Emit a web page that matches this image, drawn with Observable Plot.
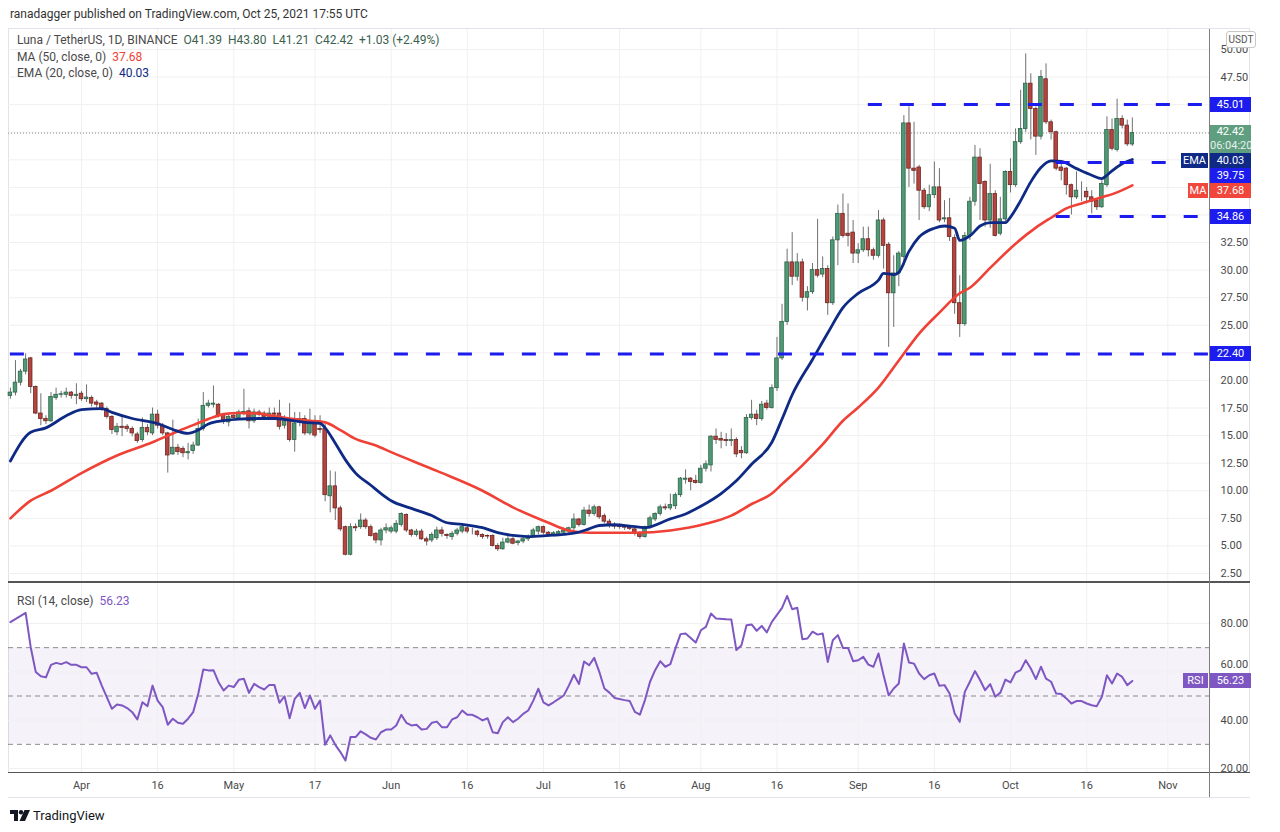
<!DOCTYPE html>
<html>
<head>
<meta charset="utf-8">
<script src="https://cdn.jsdelivr.net/npm/d3@7"></script>
<script src="https://cdn.jsdelivr.net/npm/@observablehq/plot@0.6"></script>
<style>
html,body{margin:0;padding:0;background:#fff;}
body{width:1280px;height:832px;position:relative;overflow:hidden;font-family:Roboto,"Noto Sans",sans-serif;color:#333;}
.abs{position:absolute;}
#pub{left:10px;top:6px;font-size:12px;line-height:16px;color:#333;}
#frame{left:8px;top:28px;width:1242px;height:770px;border:1px solid #e0e3eb;box-sizing:border-box;}
#timeAxis{left:0;top:773px;height:24px;width:1280px;background:#fff;}
</style>
</head>
<body>
<div id="pub" class="abs">ranadagger published on TradingView.com, Oct 25, 2021 17:55 UTC</div>
<div id="frame" class="abs"></div>
<div id="pricePane" class="abs" style="left:0;top:29px;"></div>
<div id="rsiPane" class="abs" style="left:0;top:583px;"></div>
<div id="timeAxis" class="abs"></div>
<div id="overlay"></div>
<script>
// ---------- data ----------
const startDay = "2021-03-18";
const open = [
18.6,18.9,19.8,20.8,22.0,19.4,17.0,16.5,16.3,18.4,
18.7,18.7,18.9,18.6,18.8,18.3,18.4,18.0,17.9,17.4,
16.7,15.3,15.8,15.8,15.6,15.1,14.6,15.7,15.2,16.9,
15.9,15.2,13.3,13.9,13.8,13.4,13.6,14.1,15.6,17.7,
17.8,17.8,16.9,16.2,16.8,16.6,17.1,17.2,16.3,17.1,
17.0,16.7,17.0,17.0,15.9,16.5,14.6,16.2,16.5,15.2,
16.3,15.6,15.6,9.5,10.4,8.4,6.7,4.2,6.7,6.7,
7.3,6.7,6.1,5.5,6.4,6.3,6.3,6.9,7.8,6.4,
6.0,6.3,5.6,5.5,5.7,6.4,6.0,5.8,6.1,6.3,
6.6,6.3,6.3,6.0,5.9,5.9,5.0,4.7,5.3,5.6,
5.25,5.4,5.6,5.9,6.3,6.7,6.2,6.0,6.1,6.2,
6.3,6.6,7.4,6.9,8.2,7.9,8.5,7.7,7.2,6.9,
6.8,6.7,6.65,6.5,6.1,5.8,6.7,7.4,7.9,8.5,
8.4,8.6,9.6,11.0,11.1,10.9,10.7,12.0,12.3,14.9,
14.7,14.6,14.5,14.6,13.6,13.4,16.6,16.9,16.5,17.9,
17.5,19.3,22.0,25.3,30.7,29.4,30.7,27.5,28.0,30.0,
29.6,30.1,27.0,32.7,35.1,33.3,33.4,31.5,31.8,32.8,
31.8,31.3,34.5,32.3,27.9,29.7,31.2,43.3,39.2,39.3,
37.2,35.7,36.8,37.5,34.6,34.7,32.9,27.0,25.1,33.1,
36.2,40.2,38.0,34.5,36.9,33.3,34.6,38.9,37.7,41.6,
42.8,46.9,44.6,42.1,47.3,43.4,42.5,39.3,39.2,37.7,
36.6,37.1,37.1,36.6,36.3,35.7,37.7,42.7,40.9,43.7,
43.1,41.39];
const high = [
19.3,21.8,21.0,22.4,22.1,19.5,18.8,16.8,18.9,19.3,
19.0,19.3,19.0,19.7,19.0,19.6,18.6,18.2,18.0,17.6,
16.8,16.1,16.8,16.0,15.8,15.3,16.6,16.0,17.5,17.3,
16.1,15.3,16.4,14.2,14.0,14.3,14.4,16.5,18.9,18.2,
19.5,17.9,17.0,17.0,17.0,17.3,19.2,17.5,17.4,17.3,
17.2,17.5,17.5,18.2,16.8,17.9,17.1,17.1,16.8,17.4,
16.8,16.8,16.0,11.8,11.7,8.6,6.8,7.0,7.0,7.9,
7.5,6.9,6.2,6.6,7.0,6.8,7.3,8.0,7.9,6.5,
6.5,6.5,5.8,6.2,6.7,6.7,6.1,6.3,6.6,6.9,
6.8,6.6,6.4,6.1,6.0,6.0,5.2,5.7,5.9,5.8,
5.5,5.8,6.0,6.6,6.8,6.8,6.3,6.3,6.4,6.5,
6.7,7.9,7.5,8.5,8.7,8.7,8.6,7.9,7.4,7.1,
7.0,6.9,6.8,6.6,6.3,6.8,7.7,8.0,8.7,8.8,
9.7,9.8,11.2,11.9,11.2,11.4,12.3,12.7,15.0,15.6,
15.3,15.2,15.6,14.8,14.0,16.9,18.2,17.3,18.1,18.2,
19.6,23.9,26.9,31.9,33.4,31.5,31.0,28.5,30.6,34.6,
31.2,30.4,33.0,35.9,36.9,36.0,34.5,32.4,33.9,33.9,
32.0,35.4,34.7,32.5,31.3,31.7,44.0,44.8,43.4,39.5,
37.4,37.7,39.8,39.2,36.3,36.5,33.2,29.5,33.4,36.6,
41.3,41.0,38.1,39.6,37.2,36.6,39.0,40.1,42.8,46.3,
49.6,47.8,44.8,48.1,48.7,43.6,42.6,39.8,39.3,37.8,
38.9,38.0,37.5,37.2,36.4,38.1,43.9,43.7,45.5,44.0,
43.6,43.80];
const low = [
18.3,18.6,19.5,20.5,18.8,16.9,15.9,16.0,16.2,18.2,
18.4,18.4,18.3,17.8,18.1,18.0,17.6,17.5,17.2,16.5,
15.1,15.0,14.9,15.3,14.9,14.3,14.4,15.0,15.0,15.6,
15.0,11.6,13.2,13.2,13.0,12.8,13.3,14.0,15.4,17.5,
17.5,16.6,16.0,15.8,16.4,16.4,16.8,15.6,16.1,16.7,
16.5,16.5,16.6,15.5,15.6,14.4,13.5,15.8,15.0,15.0,
14.8,15.2,9.0,8.0,7.3,6.3,4.1,4.1,6.3,6.5,
6.5,5.8,5.2,5.0,6.1,6.1,6.1,6.7,6.2,5.8,
5.8,5.5,5.0,5.3,5.5,5.8,5.6,5.5,5.9,6.1,
6.1,6.0,5.8,5.6,5.6,4.9,4.5,4.6,5.2,5.1,
5.0,5.2,5.4,5.8,6.0,6.0,5.8,5.8,5.9,6.0,
6.1,6.4,6.7,6.8,7.6,7.7,7.4,7.0,6.6,6.5,
6.5,6.4,6.4,5.9,5.6,5.7,6.5,7.2,7.7,8.2,
8.2,8.3,9.4,10.6,10.0,10.6,10.6,11.7,11.7,14.2,
13.8,14.0,14.0,13.0,12.9,13.3,16.4,15.9,16.3,17.3,
17.4,19.0,21.8,25.0,28.6,29.0,27.1,26.3,27.8,29.3,
29.3,25.9,26.8,30.4,32.9,32.1,30.6,30.6,31.6,31.2,
30.9,31.1,30.1,23.0,24.8,28.5,30.4,37.5,37.8,34.5,
35.5,35.3,36.5,34.3,34.3,32.6,26.0,23.9,24.9,32.7,
35.8,34.5,33.9,33.8,33.0,33.1,34.4,37.0,37.5,41.4,
42.5,41.8,40.4,41.8,43.2,41.8,39.0,38.1,36.8,35.0,
36.4,36.2,36.0,35.1,35.4,35.6,37.5,40.8,40.7,42.8,
41.2,41.21];
const close = [
18.9,19.8,20.8,21.9,19.4,17.0,16.5,16.3,18.5,18.7,
18.75,18.9,18.6,18.7,18.3,18.45,17.9,17.8,17.4,16.7,
15.5,15.8,15.7,15.6,15.2,14.5,15.7,15.3,16.9,15.9,
15.2,13.2,13.9,13.5,13.4,13.5,14.1,15.6,17.7,17.9,
17.9,16.8,16.3,16.7,16.6,17.1,17.15,16.3,17.1,16.9,
16.7,17.0,16.9,15.8,16.3,14.6,16.1,16.5,15.2,16.2,
15.0,15.5,9.6,10.4,8.4,6.5,4.2,6.7,6.6,7.3,
6.7,5.9,5.5,6.4,6.6,6.6,7.0,7.9,6.4,6.0,
6.3,5.6,5.4,6.0,6.4,6.1,5.9,6.1,6.4,6.7,
6.3,6.3,6.0,5.8,5.85,5.0,4.7,5.3,5.6,5.2,
5.4,5.6,5.8,6.4,6.7,6.2,6.0,6.15,6.25,6.35,
6.6,7.4,6.9,8.2,7.9,8.5,7.6,7.2,6.9,6.75,
6.7,6.65,6.55,6.1,5.8,6.7,7.5,7.9,8.5,8.4,
8.7,9.6,11.1,11.1,10.8,10.7,12.0,12.4,14.9,14.6,
14.55,14.5,14.6,13.3,13.4,16.6,16.9,16.5,17.8,17.5,
19.3,22.0,25.3,30.7,29.4,30.7,27.5,28.0,30.0,29.5,
30.1,27.0,32.7,35.1,33.1,33.1,31.5,31.8,32.8,31.8,
31.3,34.5,32.2,27.9,29.7,31.5,43.3,39.2,39.0,37.2,
35.7,36.8,37.5,34.5,34.7,33.0,27.0,25.1,33.1,36.2,
40.2,37.8,34.5,36.9,33.1,34.6,38.9,37.7,41.6,42.8,
46.9,44.6,42.1,47.5,43.4,42.5,39.2,39.0,37.7,36.6,
37.2,37.1,36.6,36.2,35.7,37.8,42.7,41.0,43.7,43.1,
41.4,42.42];

const emaDay = [0,4,7,11,14,18,20,24,29,32,35,37,39,42,45,49,52,55,58,61,62,64,66,68,71,73,75,79,83,86,89,93,96,99,102,106,109,112,114,116,119,122,125,130,133,136,140,143,146,150,152,154,158,161,164,167,171,172,174,175,177,179,182,184,186,187,189,191,193,196,197,199,201,203,205,207,210,213,215,216,217,219,221];
const emaValue = [12.7,15.3,15.7,16.8,17.35,17.45,17.1,16.55,16.1,15.55,15.2,15.5,16.05,16.35,16.5,16.55,16.55,16.4,16.2,16.1,15.7,14.3,12.8,11.6,10.5,9.75,9.1,8.4,7.75,7.1,6.95,6.65,6.2,5.95,5.85,5.95,6.05,6.25,6.55,6.85,6.92,6.8,6.66,7.45,7.9,8.6,9.75,10.9,12.4,14.4,16.5,18.7,21.9,24.3,26.6,27.9,29.1,29.7,29.6,29.8,31.7,33.0,33.8,34.0,33.8,32.7,33.1,34.0,34.3,34.3,34.8,36.3,38.0,39.3,39.9,39.85,39.2,38.6,38.3,38.6,39.0,39.65,40.03];
const maDay = [0,4,8,14,21,28,33,36,39,42,45,49,52,55,59,62,65,68,72,75,84,93,99,106,110,114,123,130,137,142,146,150,152,156,160,164,167,171,175,179,183,187,189,193,198,202,205,208,211,215,218,221];
const maValue = [7.5,9.1,10.0,11.6,13.2,14.4,15.4,15.95,16.5,16.95,17.05,17.0,16.75,16.55,16.35,16.2,15.5,14.7,14.1,13.5,11.8,10.0,8.5,7.1,6.4,6.2,6.2,6.4,7.0,7.75,8.8,9.75,10.6,12.3,14.2,16.35,17.55,19.35,21.8,24.25,26.15,27.9,28.4,30.2,32.4,33.85,34.75,35.6,36.05,36.6,37.05,37.68];
const rsiValue = [
80.6,null,null,84.4,70.2,59.9,58.2,57.7,62.9,63.7,
63.2,64.0,62.9,62.9,61.9,61.9,59.2,59.6,54.3,null,
44.7,46.5,46.1,45.0,43.3,40.3,47.4,45.8,54.3,48.1,
45.4,38.1,40.6,38.9,38.5,40.6,43.3,50.9,61.0,60.6,
60.7,55.7,52.3,54.3,53.7,56.7,57.1,51.3,55.0,53.7,
52.7,54.6,54.6,47.2,49.9,40.8,48.8,51.3,45.0,50.2,
44.7,48.1,29.8,33.7,29.8,26.8,23.3,33.0,33.0,35.4,
34.1,32.7,32.0,35.0,36.1,36.1,37.8,42.2,38.9,37.8,
38.1,36.1,36.4,38.9,39.4,37.1,37.1,40.3,41.2,44.0,
42.2,42.2,41.2,39.9,40.8,35.0,34.6,39.2,41.2,39.2,
40.6,42.6,44.0,48.1,53.0,47.4,46.1,47.4,48.8,50.2,
54.3,58.8,55.0,64.3,62.7,65.8,60.0,53.1,51.4,49.2,
null,48.3,47.9,43.4,42.3,48.3,55.9,60.7,64.4,62.1,
63.2,69.7,75.6,75.9,null,72.1,77.2,78.6,84.1,82.1,
null,81.8,81.7,69.0,71.0,79.3,79.6,77.0,79.0,76.3,
80.7,null,86.5,91.4,85.9,86.5,73.5,73.8,76.6,75.4,
75.9,64.1,73.1,75.2,69.9,69.9,64.4,64.8,66.2,63.0,
62.1,67.6,58.6,50.3,53.1,55.2,71.7,63.9,63.4,59.3,
57.0,58.6,59.3,54.2,54.5,51.0,42.8,39.3,51.7,55.9,
60.3,56.6,52.4,54.9,49.7,51.4,56.8,55.6,59.7,60.7,
64.8,61.4,57.0,62.1,57.2,55.9,51.0,50.8,49.0,46.9,
47.9,47.9,46.9,46.2,45.8,49.7,58.6,55.2,59.3,57.9,
54.5,56.23];

const levelValue = [45.01, 39.75, 34.86, 22.40];
const levelFromDay = [169, 206, 206, 0];
const priceGrid = [2.5,5,7.5,10,12.5,15,17.5,20,22.5,25,27.5,30,32.5,35,37.5,40,42.5,45,47.5,50];
const priceTickLabel = [2.5,5,7.5,10,12.5,15,17.5,20,25,27.5,30,32.5,47.5,50];
const rsiGrid = [20,40,60,80];
const rsiTickLabel = [20,40,80];
const rsiRaisedLabel = [60];
const rsiDashed = [30,50,70];
const rsiBand = [30,70];
const timeTickDate = ["2021-04-01","2021-04-16","2021-05-01","2021-05-17","2021-06-01","2021-06-16","2021-07-01","2021-07-16","2021-08-01","2021-08-16","2021-09-01","2021-09-16","2021-10-01","2021-10-16","2021-11-01"];
const timeTickLabel = ["Apr","16","May","17","Jun","16","Jul","16","Aug","16","Sep","16","Oct","16","Nov"];
const lastBar = {o: 41.39, h: 43.80, l: 41.21, c: 42.42, chg: 1.03, pct: 2.49};
const maLast = 37.68, emaLast = 40.03, rsiLast = 56.23;
const countdown = "06:04:20";
const badgeValue = [45.01, 42.42, 40.03, 39.75, 37.68, 34.86, 22.40];
const badgeColor = ["#1c1cee", "#5f9f80", "#0e2a84", "#1c1cee", "#f0463c", "#1c1cee", "#1c1cee"];
const badgeTag = ["", "", "EMA", "", "MA", "", ""];

// ---------- colours ----------
const C = {
  up: "#4f9a75", upLine: "#2c6349", down: "#b5443e", downLine: "#6e2622", wick: "#707070",
  ma: "#ef4136", ema: "#0e2a84", level: "#1c1cee", rsi: "#7e57c2", grid: "#f0f0f0", text: "#4a4a4a"
};
const fontFamily = "Roboto, 'Noto Sans', sans-serif";
const baseStyle = {fontFamily, fontSize: "11px", color: C.text, background: "transparent", overflow: "visible"};

// ---------- derived tables ----------
const t0 = new Date(startDay + "T00:00:00Z").getTime();
const day = i => new Date(t0 + i * 864e5);
const xDomain = [day(-0.374), day(236.2)];
const half = 0.35 * 864e5;
const candles = open.map((o, i) => ({date: day(i), o, h: high[i], l: low[i], c: close[i], up: close[i] >= o}));
const ema = emaDay.map((d, k) => ({date: day(d), v: emaValue[k]}));
const ma = maDay.map((d, k) => ({date: day(d), v: maValue[k]}));
const rsiData = rsiValue.map((v, i) => ({date: day(i), v})).filter(d => d.v != null);
const levels = levelValue.map((v, k) => ({v, from: day(levelFromDay[k]), to: xDomain[1]}));
const ticks = timeTickDate.map((s, k) => ({date: new Date(s + "T00:00:00Z"), label: timeTickLabel[k]}));
const fmt = d3.format(".2f");

// ---------- price pane ----------
const price = Plot.plot({
  width: 1280, height: 552,
  marginLeft: 8, marginRight: 71, marginTop: 20, marginBottom: 8,
  x: {type: "utc", domain: xDomain, axis: null},
  y: {domain: [2.5, 50], axis: null},
  color: {type: "identity"},
  style: baseStyle,
  marks: [
    Plot.ruleY(priceGrid, {stroke: C.grid}),
    Plot.ruleX(ticks, {x: "date", stroke: C.grid, insetTop: -20, insetBottom: -8}),
    Plot.ruleY([lastBar.c], {stroke: "#8f8f8f", strokeDasharray: "1,2"}),
    Plot.ruleX(candles, {x: "date", y1: "l", y2: "h", stroke: C.wick, strokeWidth: 1}),
    Plot.rect(candles, {
      x1: d => new Date(+d.date - half), x2: d => new Date(+d.date + half),
      y1: "o", y2: "c",
      fill: d => d.up ? C.up : C.down, stroke: d => d.up ? C.upLine : C.downLine, strokeWidth: 0.8
    }),
    Plot.line(ma, {x: "date", y: "v", stroke: C.ma, strokeWidth: 2.6, curve: "monotone-x"}),
    Plot.line(ema, {x: "date", y: "v", stroke: C.ema, strokeWidth: 2.8, curve: "monotone-x"}),
    Plot.ruleY(levels, {y: "v", x1: "from", x2: "to", stroke: C.level, strokeWidth: 3, strokeDasharray: "14,18"}),
    Plot.axisY({anchor: "right", ticks: priceTickLabel, tickSize: 0, tickPadding: 11, tickFormat: fmt})
  ]
});
document.getElementById("pricePane").append(price);

// ---------- RSI pane ----------
const rsi = Plot.plot({
  width: 1280, height: 189,
  marginLeft: 8, marginRight: 71, marginTop: 40, marginBottom: 4,
  x: {type: "utc", domain: xDomain, axis: null},
  y: {domain: [20, 80], axis: null},
  style: baseStyle,
  marks: [
    Plot.rect([{x1: xDomain[0], x2: xDomain[1], y1: rsiBand[0], y2: rsiBand[1]}], {x1: "x1", x2: "x2", y1: "y1", y2: "y2", fill: C.rsi, fillOpacity: 0.08}),
    Plot.ruleY(rsiGrid, {stroke: C.grid}),
    Plot.ruleX(ticks, {x: "date", stroke: C.grid, insetTop: -40, insetBottom: -4}),
    Plot.ruleY(rsiDashed, {stroke: "#8c8c8c", strokeDasharray: "5,4"}),
    Plot.line(rsiData, {x: "date", y: "v", stroke: C.rsi, strokeWidth: 2}),
    Plot.axisY({anchor: "right", ticks: rsiTickLabel, tickSize: 0, tickPadding: 11, tickFormat: fmt}),
    Plot.text(rsiRaisedLabel, {y: d => d, text: d => fmt(d), frameAnchor: "right", textAnchor: "start", dx: 11, dy: -7, fill: C.text})
  ]
});
document.getElementById("rsiPane").append(rsi);

// ---------- time axis ----------
const timeAxis = Plot.plot({
  width: 1280, height: 24,
  marginLeft: 8, marginRight: 71, marginTop: 0, marginBottom: 0,
  x: {type: "utc", domain: xDomain, axis: null},
  style: baseStyle,
  marks: [Plot.text(ticks, {x: "date", text: "label", frameAnchor: "middle", fill: C.text})]
});
document.getElementById("timeAxis").append(timeAxis);

// ---------- chrome / overlays ----------
const overlay = document.getElementById("overlay");
function box(css, html) {
  const d = document.createElement("div");
  d.style.cssText = "position:absolute;" + css;
  if (html != null) d.innerHTML = html;
  overlay.append(d);
  return d;
}
box("left:8px;top:581px;width:1242px;height:2px;background:#555;");
box("left:8px;top:772px;width:1242px;height:1px;background:#555;");
box("left:1209px;top:29px;width:1px;height:768px;background:#7d7d7d;");

box("left:17px;top:33px;font-size:12px;line-height:15px;color:#4a4a4a;white-space:pre;",
  `Luna / TetherUS, 1D, BINANCE  <span style="color:#3b5f4e">O${fmt(lastBar.o)}  H${fmt(lastBar.h)}  L${fmt(lastBar.l)}  C${fmt(lastBar.c)}  +${fmt(lastBar.chg)} (+${fmt(lastBar.pct)}%)</span>`);
box("left:17px;top:50px;font-size:12px;line-height:15px;color:#4a4a4a;white-space:pre;",
  `MA (50, close, 0)  <span style="color:${C.ma}">${fmt(maLast)}</span>`);
box("left:17px;top:66px;font-size:12px;line-height:15px;color:#4a4a4a;white-space:pre;",
  `EMA (20, close, 0)  <span style="color:${C.ema}">${fmt(emaLast)}</span>`);
box("left:17px;top:594px;font-size:12px;line-height:15px;color:#4a4a4a;white-space:pre;",
  `RSI (14, close)  <span style="color:${C.rsi}">${fmt(rsiLast)}</span>`);

box("left:1226px;top:31px;width:28px;height:15px;line-height:15px;border:1px solid #c8c8c8;border-radius:3px;background:#fff;font-size:10px;color:#555;text-align:center;", "USDT");

const py = v => 29 + price.scale("y").apply(v);
let prevBottom = -Infinity;
badgeValue.forEach((v, k) => {
  const two = v === lastBar.c;
  const h = two ? 28 : 15;
  let top = py(v) - 7.5;
  if (top < prevBottom) top = prevBottom;
  prevBottom = top + h;
  const inner = two ? `${fmt(v)}<br><span style="opacity:0.85">${countdown}</span>` : fmt(v);
  box(`left:1210px;top:${top}px;width:41px;height:${h}px;line-height:${two ? 14 : 15}px;background:${badgeColor[k]};color:#fff;font-size:11px;text-align:center;`, inner);
  if (badgeTag[k]) {
    const w = badgeTag[k].length * 7 + 6;
    box(`left:${1208 - w}px;top:${top}px;width:${w}px;height:15px;line-height:15px;background:${badgeColor[k]};color:#fff;font-size:11px;text-align:center;`, badgeTag[k]);
  }
});
const ry = 583 + rsi.scale("y").apply(rsiLast);
box(`left:1210px;top:${ry - 7.5}px;width:41px;height:15px;line-height:15px;background:${C.rsi};color:#fff;font-size:11px;text-align:center;`, fmt(rsiLast));
box(`left:1183px;top:${ry - 7.5}px;width:25px;height:15px;line-height:15px;background:${C.rsi};color:#fff;font-size:11px;text-align:center;`, "RSI");

box("left:10px;top:808px;height:14px;display:flex;align-items:center;gap:3px;font-size:13px;color:#131722;",
  `<svg width="20" height="11" viewBox="0 0 20 11"><path d="M0 0h8v11h-4v-7h-4z" fill="#131722"/><circle cx="11" cy="2.2" r="2.2" fill="#131722"/><path d="M14.5 0h5.5l-5 11h-5.5z" fill="#131722"/></svg><span>TradingView</span>`);
</script>
</body>
</html>
